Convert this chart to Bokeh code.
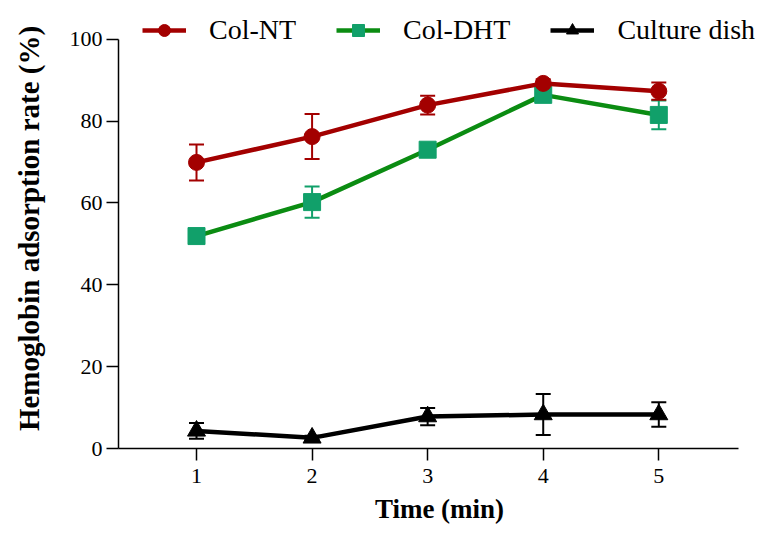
from bokeh.plotting import figure
from bokeh.models import ColumnDataSource, Whisker, TeeHead, Legend, LegendItem, Range1d, FixedTicker
from bokeh.embed import file_html
from bokeh.resources import INLINE

time_min = [1, 2, 3, 4, 5]
col_nt = [69.9, 76.2, 83.9, 89.2, 87.3]
col_nt_err = [4.4, 5.5, 2.3, 1.0, 2.1]
col_dht = [51.9, 60.2, 73.0, 86.4, 81.5]
col_dht_err = [0.6, 3.8, 0.8, 0.8, 3.5]
dish = [4.3, 2.6, 7.8, 8.3, 8.3]
dish_err = [1.9, 0.5, 2.1, 5.0, 3.0]
y_ticks = [0, 20, 40, 60, 80, 100]

FONT = "Liberation Serif"

p = figure(width=760, height=526, output_backend="svg", toolbar_location=None,
           x_range=Range1d(0.325, 5.88), y_range=Range1d(0, 107.5),
           min_border_left=118, min_border_right=0, min_border_top=8, min_border_bottom=76)
p.outline_line_color = None
p.xgrid.visible = False
p.ygrid.visible = False
p.background_fill_color = "white"

series = [
    ("Col-NT", col_nt, col_nt_err, "#a30000", "#a30000", "#a30000", "circle", 16),
    ("Col-DHT", col_dht, col_dht_err, "#0b8c12", "#11a06a", "#11a06a", "square", 17),
    ("Culture dish", dish, dish_err, "black", "black", "black", "triangle", 18),
]

order = [1, 0, 2]
items = {}
for idx in order:
    name, vals, errs, lcol, mcol, ecol, mk, sz = series[idx]
    src = ColumnDataSource(dict(x=time_min, y=vals,
                                upper=[v + e for v, e in zip(vals, errs)],
                                lower=[v - e for v, e in zip(vals, errs)]))
    ln = p.line("x", "y", source=src, line_color=lcol, line_width=4.5)
    w = Whisker(source=src, base="x", upper="upper", lower="lower",
                line_color=ecol, line_width=2,
                upper_head=TeeHead(size=15, line_color=ecol, line_width=2),
                lower_head=TeeHead(size=15, line_color=ecol, line_width=2))
    p.add_layout(w)
    sc = p.scatter("x", "y", source=src, marker=mk, size=sz,
                   fill_color=mcol, line_color=mcol)
    items[idx] = LegendItem(label=name, renderers=[ln, sc])

legend = Legend(items=[items[0], items[1], items[2]], orientation="horizontal",
                location=(24, 402), glyph_width=44, glyph_height=30, label_height=30,
                label_standoff=23, spacing=40, padding=0, margin=0,
                border_line_color=None, background_fill_alpha=0,
                label_text_font=FONT, label_text_font_size="28px", label_text_color="black")
p.add_layout(legend, "center")

p.xaxis.ticker = FixedTicker(ticks=time_min)
p.yaxis.ticker = FixedTicker(ticks=y_ticks)
p.yaxis.bounds = (y_ticks[0], y_ticks[-1])
p.xaxis.bounds = (0.325, 5.69)
for ax in (p.xaxis, p.yaxis):
    ax.axis_line_width = 1.5
    ax.axis_line_color = "black"
    ax.major_tick_line_width = 1.5
    ax.major_tick_line_color = "black"
    ax.major_tick_in = 0
    ax.major_tick_out = 12
    ax.minor_tick_line_color = None
    ax.major_label_text_font = FONT
    ax.major_label_text_font_size = "22px"
    ax.major_label_text_color = "black"
    ax.axis_label_text_font = FONT
    ax.axis_label_text_font_style = "bold"
    ax.axis_label_text_color = "black"

p.xaxis.axis_label = "Time (min)"
p.yaxis.axis_label = "Hemoglobin adsorption rate (%)"
p.xaxis.axis_label_text_font_size = "27px"
p.yaxis.axis_label_text_font_size = "29px"
p.xaxis.major_label_standoff = 8
p.yaxis.major_label_standoff = 4
p.xaxis.axis_label_standoff = 8
p.yaxis.axis_label_standoff = 22

open("out.html", "w").write(file_html(p, INLINE))
